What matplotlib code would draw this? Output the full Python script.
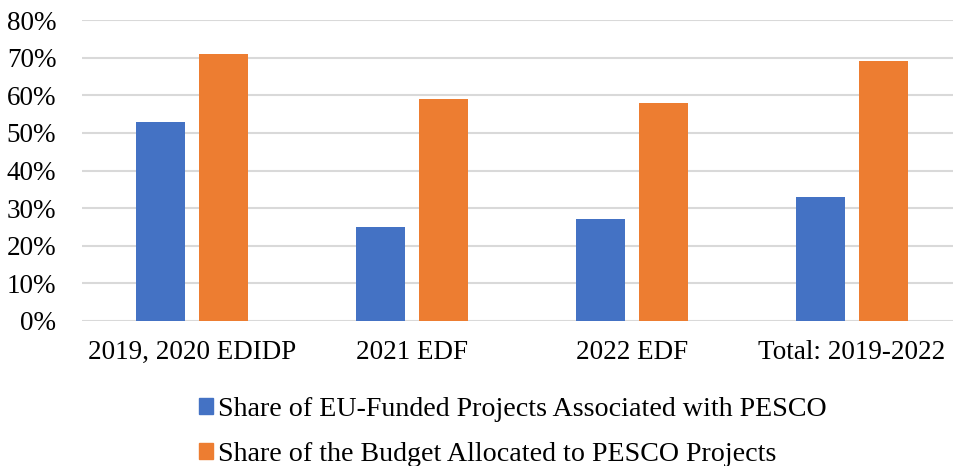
import matplotlib
matplotlib.use("Agg")
import matplotlib.pyplot as plt
import numpy as np
from matplotlib.patches import Patch
from matplotlib.ticker import FuncFormatter

categories = ["2019, 2020 EDIDP", "2021 EDF", "2022 EDF", "Total: 2019-2022"]
projects_share = [53, 25, 27, 33]
budget_share = [71, 59, 58, 69]
series_names = ["Share of EU-Funded Projects Associated with PESCO",
                "Share of the Budget Allocated to PESCO Projects"]
colors = ["#4472C4", "#ED7D31"]

plt.rcParams['font.family'] = ['Liberation Serif', 'DejaVu Serif']

fig = plt.figure(figsize=(9.54, 4.66), dpi=100)
W, H = 954, 466
left, right, bottom, top = 82, 962, 321, 20
ax = fig.add_axes([left / W, 1 - bottom / H, (right - left) / W, (bottom - top) / H])

x = np.arange(len(categories))
bw = 0.223
off = 0.143
ax.bar(x - off, projects_share, bw, color=colors[0], zorder=3)
ax.bar(x + off, budget_share, bw, color=colors[1], zorder=3)

ax.set_xlim(-0.5, len(categories) - 0.5)
ax.set_ylim(0, 80)
ax.set_yticks(np.arange(0, 81, 10))
ax.yaxis.set_major_formatter(FuncFormatter(lambda v, p: f"{int(v)}%"))
ax.grid(axis='y', color='#D9D9D9', linewidth=1.5, zorder=0)
ax.set_xticks(x)
ax.set_xticklabels(categories)
for s in ax.spines.values():
    s.set_visible(False)
ax.tick_params(axis='both', length=0, labelsize=19.5, colors='black')
ax.tick_params(axis='x', pad=13.5)
ax.tick_params(axis='y', pad=18.5)

handles = [Patch(color=c) for c in colors]
fig.legend(handles, series_names, loc='upper left',
           bbox_to_anchor=(199 / W, 1 - 397 / H), frameon=False,
           fontsize=20.2, handlelength=0.5, handleheight=0.5,
           handletextpad=0.18, labelspacing=0.7, borderpad=0,
           borderaxespad=0)

fig.savefig("out.png", dpi=100)
